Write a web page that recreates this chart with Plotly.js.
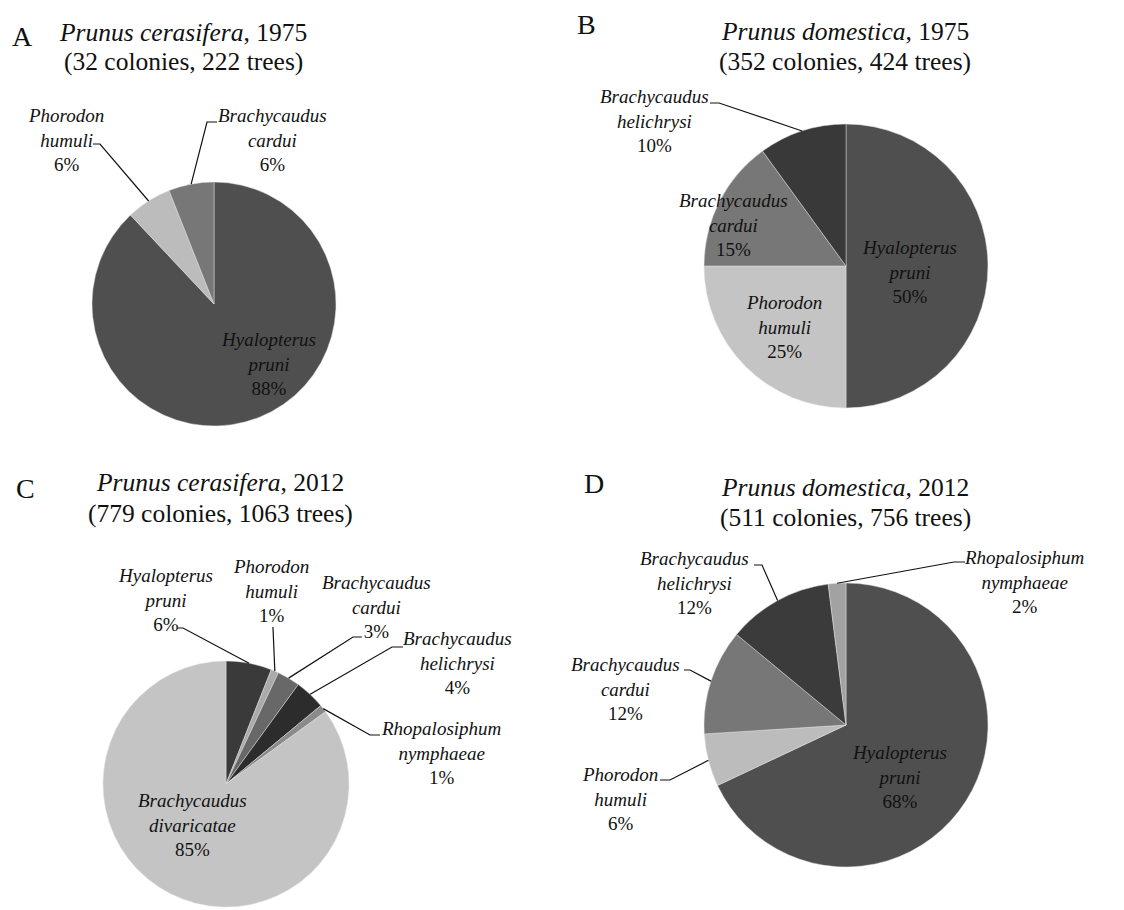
<!DOCTYPE html>
<html>
<head>
<meta charset="utf-8">
<script src="https://cdn.plot.ly/plotly-3.0.1.min.js"></script>
<style>html,body{margin:0;padding:0;background:#fff;}#chart{width:1124px;height:910px;}</style>
</head>
<body>
<div id="chart"></div>
<script>
// ---- DATA ----
const speciesA = ['Hyalopterus pruni', 'Phorodon humuli', 'Brachycaudus cardui'];
const valuesA = [88, 6, 6];

const speciesB = ['Hyalopterus pruni', 'Phorodon humuli', 'Brachycaudus cardui', 'Brachycaudus helichrysi'];
const valuesB = [50, 25, 15, 10];

const speciesC = ['Hyalopterus pruni', 'Phorodon humuli', 'Brachycaudus cardui', 'Brachycaudus helichrysi', 'Rhopalosiphum nymphaeae', 'Brachycaudus divaricatae'];
const valuesC = [6, 1, 3, 4, 1, 85];

const speciesD = ['Hyalopterus pruni', 'Phorodon humuli', 'Brachycaudus cardui', 'Brachycaudus helichrysi', 'Rhopalosiphum nymphaeae'];
const valuesD = [68, 6, 12, 12, 2];

const panelLetters = ['A', 'B', 'C', 'D'];
const hostPlants = ['Prunus cerasifera', 'Prunus domestica', 'Prunus cerasifera', 'Prunus domestica'];
const years = ['1975', '1975', '2012', '2012'];
const colonies = [32, 352, 779, 511];
const trees = [222, 424, 1063, 756];

// ---- LAYOUT / STYLE ----
const W = 1124, H = 910;
const FONT = '"Liberation Serif", "Times New Roman", serif';
const px = x => x / W;
const py = y => 1 - y / H;

const panels = [
  {
    species: speciesA, values: valuesA,
    cx: 214, cy: 304, r: 122,
    colors: ['#4f4f4f', '#bcbcbc', '#777777'],
    letter: {x: 22, y: 37}, title: {x: 183, y1: 33, y2: 62},
    labels: [
      {x: 268, y: 364},
      {x: 66, y: 140, elbow: [100, 144], end: [93, 144]},
      {x: 272, y: 140, elbow: [207, 122], end: [217, 122]}
    ]
  },
  {
    species: speciesB, values: valuesB,
    cx: 846, cy: 266, r: 142,
    colors: ['#4f4f4f', '#c4c4c4', '#777777', '#393939'],
    letter: {x: 586, y: 24}, title: {x: 845, y1: 32, y2: 62},
    labels: [
      {x: 909, y: 272},
      {x: 784, y: 327},
      {x: 733, y: 225},
      {x: 654, y: 121, elbow: [719, 103], end: [710, 103]}
    ]
  },
  {
    species: speciesC, values: valuesC,
    cx: 226, cy: 784, r: 123,
    colors: ['#3a3a3a', '#aaaaaa', '#686868', '#2c2c2c', '#8a8a8a', '#c4c4c4'],
    letter: {x: 25, y: 488}, title: {x: 220, y1: 482, y2: 513},
    labels: [
      {x: 165, y: 600, elbow: [183, 628], end: [178, 628]},
      {x: 271, y: 591, elbow: [273, 628], end: [273, 627]},
      {x: 376, y: 607, elbow: [353, 637], end: [362, 637]},
      {x: 457, y: 663, elbow: [392, 647], end: [403, 647]},
      {x: 441, y: 753, elbow: [370, 735], end: [380, 735]},
      {x: 192, y: 825}
    ]
  },
  {
    species: speciesD, values: valuesD,
    cx: 846, cy: 725, r: 142,
    colors: ['#4f4f4f', '#bcbcbc', '#777777', '#3b3b3b', '#a2a2a2'],
    letter: {x: 594, y: 483}, title: {x: 845, y1: 487, y2: 517},
    labels: [
      {x: 899, y: 777},
      {x: 620, y: 799, elbow: [670, 780], end: [660, 780]},
      {x: 625, y: 689, elbow: [690, 670], end: [684, 670]},
      {x: 694, y: 583, elbow: [762, 565], end: [754, 565]},
      {x: 1024, y: 582, elbow: [954, 562], end: [965, 562]}
    ]
  }
];

const traces = [];
const annotations = [];
const shapes = [];

panels.forEach((p, i) => {
  traces.push({
    type: 'pie',
    labels: p.species,
    values: p.values,
    sort: false,
    direction: 'clockwise',
    rotation: 0,
    textinfo: 'none',
    hoverinfo: 'label+percent',
    showlegend: false,
    marker: {colors: p.colors, line: {color: 'rgba(225,225,225,0.6)', width: 0.8}},
    domain: {x: [px(p.cx - p.r), px(p.cx + p.r)], y: [py(p.cy + p.r), py(p.cy - p.r)]}
  });

  annotations.push({
    xref: 'paper', yref: 'paper', x: px(p.letter.x), y: py(p.letter.y),
    xanchor: 'center', yanchor: 'middle', showarrow: false,
    text: panelLetters[i], font: {family: FONT, size: 28, color: '#111'}
  });
  annotations.push({
    xref: 'paper', yref: 'paper', x: px(p.title.x), y: py(p.title.y1),
    xanchor: 'center', yanchor: 'middle', showarrow: false,
    text: '<i>' + hostPlants[i] + '</i>, ' + years[i],
    font: {family: FONT, size: 25.5, color: '#111'}
  });
  annotations.push({
    xref: 'paper', yref: 'paper', x: px(p.title.x), y: py(p.title.y2),
    xanchor: 'center', yanchor: 'middle', showarrow: false,
    text: '(' + colonies[i] + ' colonies, ' + trees[i] + ' trees)',
    font: {family: FONT, size: 25.5, color: '#111'}
  });

  const total = p.values.reduce((a, b) => a + b, 0);
  let cum = 0;
  p.values.forEach((v, j) => {
    const mid = (cum + v / 2) / total;
    cum += v;
    const ang = mid * 2 * Math.PI;
    const ex = p.cx + p.r * Math.sin(ang);
    const ey = p.cy - p.r * Math.cos(ang);
    const lab = p.labels[j];
    const parts = p.species[j].split(' ');
    const pct = Math.round(v / total * 100) + '%';
    annotations.push({
      xref: 'paper', yref: 'paper', x: px(lab.x), y: py(lab.y),
      xanchor: 'center', yanchor: 'middle', showarrow: false,
      text: '<i>' + parts[0] + '</i><br><i>' + parts[1] + '</i><br>' + pct,
      font: {family: FONT, size: 19, color: '#111'}
    });
    if (lab.elbow) {
      shapes.push({
        type: 'path', xref: 'paper', yref: 'paper',
        path: 'M ' + px(ex) + ' ' + py(ey) + ' L ' + px(lab.elbow[0]) + ' ' + py(lab.elbow[1]) +
              ' L ' + px(lab.end[0]) + ' ' + py(lab.end[1]),
        line: {color: '#111', width: 1.2}
      });
    }
  });
});

const layout = {
  width: W, height: H,
  margin: {l: 0, r: 0, t: 0, b: 0},
  paper_bgcolor: '#ffffff',
  showlegend: false,
  annotations: annotations,
  shapes: shapes
};

Plotly.newPlot('chart', traces, layout, {displayModeBar: false, staticPlot: true});
</script>
</body>
</html>
